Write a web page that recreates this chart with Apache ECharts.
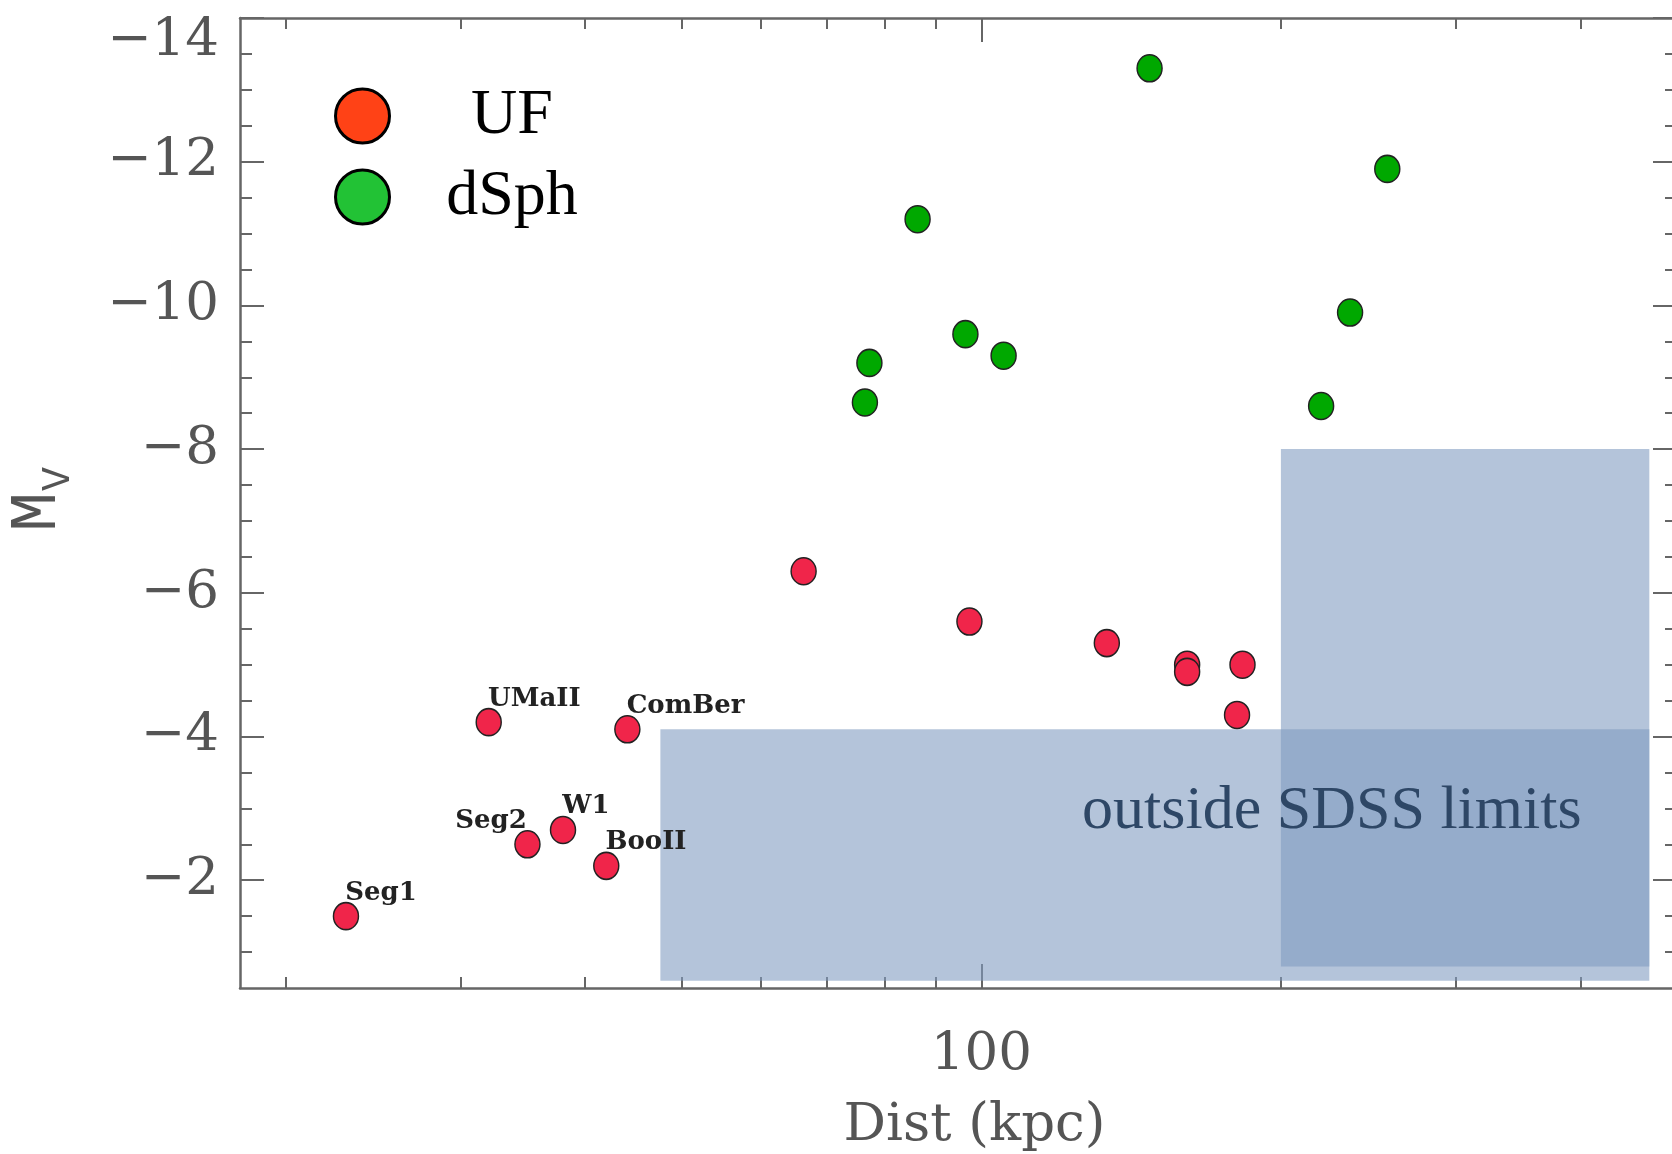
<!DOCTYPE html>
<html>
<head>
<meta charset="utf-8">
<script src="https://cdn.jsdelivr.net/npm/echarts@6/dist/echarts.min.js"></script>
<style>
  html, body { margin: 0; padding: 0; background: #fff; }
  #chart { width: 1672px; height: 1154px; }
</style>
</head>
<body>
<div id="chart"></div>
<script>
// ultra-faint dwarfs (UF)
const ufNames = ["Seg1", "UMaII", "ComBer", "Seg2", "W1", "BooII", "", "", "", "", "", "", ""];
const ufDist = [23.0, 32.0, 44.1, 35.0, 38.0, 42.0, 66.3, 97.3, 133.7, 161, 161, 183, 180.7];
const ufMv = [-1.5, -4.2, -4.1, -2.5, -2.7, -2.2, -6.3, -5.6, -5.3, -5.0, -4.9, -5.0, -4.3];

// classical dwarf spheroidals
const dsphDist = [147.6, 255.8, 86.3, 234.7, 96.4, 105.3, 77.2, 76.4, 219.5];
const dsphMv = [-13.3, -11.9, -11.2, -9.9, -9.6, -9.3, -9.2, -8.65, -8.6];

// shaded "outside SDSS limits" boxes: [x0, x1], [y0, y1]
const sdssDist = [[47.6, 469], [200, 469]];
const sdssMv = [[-4.1, -0.6], [-8.0, -0.8]];

// axis ticks
const xMinorTicks = [20, 30, 40, 50, 60, 70, 80, 90, 200, 300, 400];
const xMajorTicks = [100];
const xTickLabels = [100];
const yMajorTicks = [-14, -12, -10, -8, -6, -4, -2];
const yMinorTicks = [-13.5, -13, -12.5, -11.5, -11, -10.5, -9.5, -9, -8.5, -7.5, -7, -6.5,
  -5.5, -5, -4.5, -3.5, -3, -2.5, -1.5, -1];

const AXIS_COLOR = "#666";
const TICK_FONT = "DejaVu Serif";

function xAxisCfg(position, ticks, len, main) {
  return {
    type: "log",
    logBase: 10,
    min: 18,
    max: 500,
    position: position,
    gridIndex: 0,
    axisLine: { show: main, lineStyle: { color: AXIS_COLOR, width: 2.5 } },
    axisTick: { show: true, inside: true, length: len, customValues: ticks,
      lineStyle: { color: AXIS_COLOR, width: 2 } },
    axisLabel: main && position === "bottom" ? {
      show: true, customValues: xTickLabels, margin: 41,
      formatter: v => (v === 100 ? "100" : ""),
      fontFamily: TICK_FONT, fontSize: 53, color: "#555", lineHeight: 53
    } : { show: false },
    splitLine: { show: false },
    minorTick: { show: false },
    name: main && position === "bottom" ? "Dist (kpc)" : "",
    nameLocation: "middle",
    nameGap: 112,
    nameTextStyle: { fontFamily: TICK_FONT, fontSize: 53, color: "#555", lineHeight: 53,
      padding: [0, 0, 0, 32] }
  };
}

function yAxisCfg(position, ticks, len, main) {
  return {
    type: "value",
    inverse: true,
    min: -14,
    max: -0.5,
    interval: 2,
    position: position,
    gridIndex: 0,
    axisLine: { show: main, onZero: false, lineStyle: { color: AXIS_COLOR, width: 2.5 } },
    axisTick: { show: true, inside: true, length: len, customValues: ticks,
      lineStyle: { color: AXIS_COLOR, width: 2 } },
    axisLabel: main && position === "left" ? {
      show: true, customValues: yMajorTicks, margin: 21,
      formatter: v => (v === -14 ? "{top|\u2212" + Math.abs(v) + "}" : "\u2212" + Math.abs(v)),
      fontFamily: TICK_FONT, fontSize: 53, color: "#555",
      rich: { top: { fontFamily: TICK_FONT, fontSize: 53, color: "#555", padding: [46, 0, 0, 0] } }
    } : { show: false },
    splitLine: { show: false },
    minorTick: { show: false }
  };
}

const chart = echarts.init(document.getElementById("chart"));

const option = {
  animation: false,
  backgroundColor: "#fff",
  grid: { left: 240, top: 18, width: 1437, height: 970, containLabel: false, outerBoundsMode: "none" },
  xAxis: [
    xAxisCfg("bottom", xMinorTicks, 11, true),
    xAxisCfg("bottom", xMajorTicks, 24, false),
    xAxisCfg("top", xMinorTicks, 11, true),
    xAxisCfg("top", xMajorTicks, 24, false)
  ],
  yAxis: [
    yAxisCfg("left", yMajorTicks, 24, true),
    yAxisCfg("left", yMinorTicks, 12, false),
    yAxisCfg("right", yMajorTicks, 24, true),
    yAxisCfg("right", yMinorTicks, 12, false)
  ],
  legend: {
    orient: "vertical",
    left: 334,
    top: 84,
    padding: 0,
    itemWidth: 55,
    itemHeight: 54,
    itemGap: 17,
    icon: "circle",
    data: [
      { name: "UF", itemStyle: { color: "#FF4216", borderColor: "#000", borderWidth: 3 } },
      { name: "dSph", itemStyle: { color: "#22C235", borderColor: "#000", borderWidth: 3 } }
    ],
    formatter: "{t|{name}}",
    textStyle: {
      rich: {
        t: { width: 234, align: "center", fontFamily: "Liberation Serif", fontSize: 64,
          lineHeight: 54, color: "#000" }
      }
    }
  },
  graphic: [
    {
      type: "text", x: 38, y: 512, rotation: Math.PI / 2,
      style: { text: "M", font: "66px 'Liberation Mono'", fill: "#555",
        align: "center", verticalAlign: "middle" }
    },
    {
      type: "text", x: 58, y: 479, rotation: Math.PI / 2,
      style: { text: "V", font: "40px 'Liberation Mono'", fill: "#555",
        align: "center", verticalAlign: "middle" }
    }
  ],
  series: [
    {
      name: "dSph",
      type: "scatter",
      z: 3,
      symbol: "circle",
      symbolSize: [25, 27],
      itemStyle: { color: "#00A800", borderColor: "#222", borderWidth: 1.5, opacity: 1 },
      data: dsphDist.map((d, i) => [d, dsphMv[i]])
    },
    {
      name: "UF",
      type: "scatter",
      z: 3,
      symbol: "circle",
      symbolSize: [25, 27],
      itemStyle: { color: "#F0254A", borderColor: "#222", borderWidth: 1.5, opacity: 1 },
      label: {
        show: false,
        position: [12.5, 4],
        verticalAlign: "bottom",
        fontFamily: "DejaVu Serif",
        fontWeight: "bold",
        fontSize: 26,
        color: "#222",
        formatter: p => p.name
      },
      data: ufDist.map((d, i) => ({
        name: ufNames[i],
        value: [d, ufMv[i]],
        label: { show: ufNames[i] !== "", align: ufNames[i] === "Seg2" ? "right" : "left" }
      }))
    },
    {
      name: "sdss",
      type: "scatter",
      z: 10,
      data: [],
      markArea: {
        silent: true,
        itemStyle: { color: "rgba(127,154,192,0.59)" },
        label: { show: false },
        data: sdssDist.map((xr, i) => [
          {
            coord: [xr[0], sdssMv[i][0]],
            label: i === 0 ? {
              show: true, position: "inside", offset: [177, -43],
              formatter: "outside SDSS limits",
              fontFamily: "Liberation Serif", fontSize: 62, color: "#2E4766"
            } : { show: false }
          },
          { coord: [xr[1], sdssMv[i][1]] }
        ])
      }
    }
  ]
};

chart.setOption(option);
window.addEventListener("resize", chart.resize);
</script>
</body>
</html>
